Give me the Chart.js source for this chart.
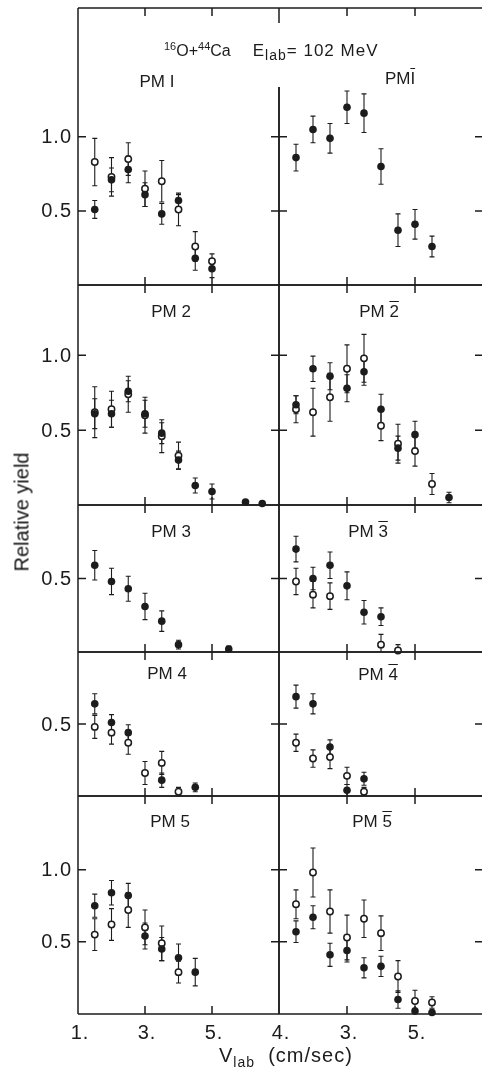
<!DOCTYPE html>
<html>
<head>
<meta charset="utf-8">
<script src="https://cdn.jsdelivr.net/npm/chart.js@4.4.1/dist/chart.umd.min.js"></script>
<style>
  html, body { margin: 0; padding: 0; background: #fff; }
  #page { position: relative; width: 482px; height: 1074px; overflow: hidden;
          font-family: "Liberation Sans", Arial, sans-serif; color: #1c1c1c; }
  #page canvas { position: absolute; }
  .txt { position: absolute; white-space: nowrap; }
  .pm { position: absolute; white-space: nowrap; transform: translate(-50%, -50%); font-size: 17px; }
  .ob { text-decoration: overline; }
</style>
</head>
<body>
<div id="page"></div>
<script>
// lab velocity bins shared by every panel
const vel = [1.5, 2.0, 2.5, 3.0, 3.5, 4.0, 4.5, 5.0, 5.5, 6.0, 6.5];

const xTickVals = [1, 3, 5];
const leftXLabels = ["1.", "3.", "5."];
const rightXLabels = ["4.", "3.", "5."];

// relative yields, filled = solid circles, open = hollow circles
const pm1Filled    = [0.51, 0.71, 0.78, 0.61, 0.48, 0.57, 0.18, 0.11];
const pm1FilledErr = [0.06, 0.08, 0.09, 0.08, 0.07, 0.04, 0.08, 0.06];
const pm1Open      = [0.83, 0.73, 0.85, 0.65, 0.70, 0.51, 0.26, 0.16];
const pm1OpenErr   = [0.16, 0.13, 0.11, 0.12, 0.14, 0.11, 0.10, 0.05];

const pm1bFilled    = [0.86, 1.05, 0.99, 1.20, 1.16, 0.80, 0.37, 0.41, 0.26];
const pm1bFilledErr = [0.09, 0.09, 0.10, 0.11, 0.13, 0.12, 0.11, 0.10, 0.07];
const pm1bOpen      = [];
const pm1bOpenErr   = [];

const pm2Filled    = [0.61, 0.61, 0.76, 0.61, 0.48, 0.30, 0.13, 0.09, null, 0.02, 0.01];
const pm2FilledErr = [0.10, 0.09, 0.07, 0.09, 0.07, 0.06, 0.05, 0.05, null, 0.015, 0.01];
const pm2Open      = [0.62, 0.64, 0.74, 0.60, 0.46, 0.33];
const pm2OpenErr   = [0.17, 0.12, 0.12, 0.12, 0.11, 0.09];

const pm2bFilled    = [0.67, 0.91, 0.86, 0.78, 0.89, 0.64, 0.38, 0.47, null, 0.05];
const pm2bFilledErr = [0.06, 0.085, 0.09, 0.09, 0.09, 0.10, 0.08, 0.09, null, 0.035];
const pm2bOpen      = [0.64, 0.62, 0.72, 0.91, 0.98, 0.53, 0.41, 0.36, 0.14];
const pm2bOpenErr   = [0.09, 0.16, 0.16, 0.16, 0.16, 0.10, 0.13, 0.10, 0.07];

const pm3Filled    = [0.59, 0.48, 0.43, 0.31, 0.21, 0.05, null, null, 0.02];
const pm3FilledErr = [0.10, 0.09, 0.085, 0.09, 0.07, 0.03, null, null, 0.02];
const pm3Open      = [];
const pm3OpenErr   = [];

const pm3bFilled    = [0.70, 0.50, 0.59, 0.45, 0.27, 0.24];
const pm3bFilledErr = [0.087, 0.077, 0.09, 0.095, 0.08, 0.06];
const pm3bOpen      = [0.48, 0.39, 0.38, null, null, 0.05, 0.01];
const pm3bOpenErr   = [0.09, 0.09, 0.09, null, null, 0.07, 0.04];

const pm4Filled    = [0.64, 0.51, 0.44, null, 0.11, null, 0.06];
const pm4FilledErr = [0.07, 0.055, 0.055, null, 0.05, null, 0.03];
const pm4Open      = [0.48, 0.44, 0.37, 0.16, 0.23, 0.03];
const pm4OpenErr   = [0.08, 0.08, 0.08, 0.08, 0.08, 0.03];

const pm4bFilled    = [0.69, 0.64, 0.34, 0.04, 0.12];
const pm4bFilledErr = [0.08, 0.07, 0.05, 0.04, 0.045];
const pm4bOpen      = [0.37, 0.26, 0.27, 0.14, 0.03];
const pm4bOpenErr   = [0.06, 0.06, 0.08, 0.06, 0.03];

const pm5Filled    = [0.75, 0.84, 0.82, 0.54, 0.45, 0.39, 0.29];
const pm5FilledErr = [0.08, 0.085, 0.085, 0.09, 0.08, 0.095, 0.095];
const pm5Open      = [0.55, 0.62, 0.72, 0.60, 0.49, 0.29];
const pm5OpenErr   = [0.11, 0.11, 0.12, 0.12, 0.12, 0.075];

const pm5bFilled    = [0.57, 0.67, 0.41, 0.44, 0.32, 0.33, 0.10, 0.02, 0.01];
const pm5bFilledErr = [0.075, 0.08, 0.08, 0.08, 0.07, 0.07, 0.06, 0.02, 0.015];
const pm5bOpen      = [0.76, 0.98, 0.71, 0.53, 0.66, 0.56, 0.26, 0.09, 0.08];
const pm5bOpenErr   = [0.10, 0.17, 0.15, 0.155, 0.13, 0.12, 0.11, 0.075, 0.04];

// page geometry (pixels)
const ink = "#1c1c1c";
const cols = [{ l: 78, r: 279 }, { l: 279, r: 483 }];
const rows = [
  { t: 8,   b: 285,  ymax: 1.87, yTicks: [0.5, 1.0] },
  { t: 285, b: 505,  ymax: 1.47, yTicks: [0.5, 1.0] },
  { t: 505, b: 652,  ymax: 1.0,  yTicks: [0.5] },
  { t: 652, b: 796,  ymax: 1.0,  yTicks: [0.5] },
  { t: 796, b: 1014, ymax: 1.51, yTicks: [0.5, 1.0] },
];

const panels = [
  { row: 0, col: 0, label: "PM I",  bar: false, lx: 157, ly: 82,  f: pm1Filled,  fe: pm1FilledErr,  o: pm1Open,  oe: pm1OpenErr },
  { row: 0, col: 1, label: "PMI",   bar: true,  lx: 400, ly: 79,  f: pm1bFilled, fe: pm1bFilledErr, o: pm1bOpen, oe: pm1bOpenErr },
  { row: 1, col: 0, label: "PM 2",  bar: false, lx: 171, ly: 312, f: pm2Filled,  fe: pm2FilledErr,  o: pm2Open,  oe: pm2OpenErr },
  { row: 1, col: 1, label: "PM 2",  bar: true,  lx: 379, ly: 312, f: pm2bFilled, fe: pm2bFilledErr, o: pm2bOpen, oe: pm2bOpenErr },
  { row: 2, col: 0, label: "PM 3",  bar: false, lx: 171, ly: 532, f: pm3Filled,  fe: pm3FilledErr,  o: pm3Open,  oe: pm3OpenErr },
  { row: 2, col: 1, label: "PM 3",  bar: true,  lx: 368, ly: 532, f: pm3bFilled, fe: pm3bFilledErr, o: pm3bOpen, oe: pm3bOpenErr },
  { row: 3, col: 0, label: "PM 4",  bar: false, lx: 167, ly: 674, f: pm4Filled,  fe: pm4FilledErr,  o: pm4Open,  oe: pm4OpenErr },
  { row: 3, col: 1, label: "PM 4",  bar: true,  lx: 378, ly: 675, f: pm4bFilled, fe: pm4bFilledErr, o: pm4bOpen, oe: pm4bOpenErr },
  { row: 4, col: 0, label: "PM 5",  bar: false, lx: 170, ly: 822, f: pm5Filled,  fe: pm5FilledErr,  o: pm5Open,  oe: pm5OpenErr },
  { row: 4, col: 1, label: "PM 5",  bar: true,  lx: 372, ly: 822, f: pm5bFilled, fe: pm5bFilledErr, o: pm5bOpen, oe: pm5bOpenErr },
];

function points(vals, errs) {
  const out = [];
  vals.forEach((v, i) => {
    if (v !== null && v !== undefined) out.push({ x: vel[i], y: v, e: errs[i] || 0 });
  });
  return out;
}

// error bars under the markers, then the frame with inward ticks and labels
const panelFrame = {
  id: "panelFrame",
  beforeDatasetsDraw(chart) {
    const { ctx, scales: { x, y } } = chart;
    ctx.save();
    ctx.strokeStyle = ink;
    ctx.lineWidth = 1.1;
    chart.data.datasets.forEach((ds) => {
      ds.data.forEach((p) => {
        if (!p.e) return;
        const px = x.getPixelForValue(p.x);
        const yt = y.getPixelForValue(p.y + p.e);
        const low = Math.max(0, p.y - p.e);
        const yb = y.getPixelForValue(low);
        ctx.beginPath();
        ctx.moveTo(px, yt); ctx.lineTo(px, yb);
        ctx.moveTo(px - 2.5, yt); ctx.lineTo(px + 2.5, yt);
        if (low > 0) { ctx.moveTo(px - 2.5, yb); ctx.lineTo(px + 2.5, yb); }
        ctx.stroke();
      });
    });
    ctx.restore();
  },
  afterDraw(chart, args, o) {
    const { ctx, chartArea: a, scales: { x, y } } = chart;
    const tl = 8;
    ctx.save();
    ctx.strokeStyle = ink;
    ctx.lineWidth = 1.5;
    ctx.beginPath();
    ctx.moveTo(a.left, a.top); ctx.lineTo(a.right, a.top);
    ctx.moveTo(a.left, a.bottom); ctx.lineTo(a.right, a.bottom);
    ctx.moveTo(a.left, o.col === 1 ? a.top + o.gap : a.top); ctx.lineTo(a.left, a.bottom);
    ctx.moveTo(a.right, o.col === 0 ? a.top + o.gap : a.top); ctx.lineTo(a.right, a.bottom);
    o.yTicks.forEach((v) => {
      const py = y.getPixelForValue(v);
      ctx.moveTo(a.left, py); ctx.lineTo(a.left + tl, py);
      ctx.moveTo(a.right - tl, py); ctx.lineTo(a.right, py);
    });
    xTickVals.slice(1).forEach((v) => {
      const px = x.getPixelForValue(v);
      ctx.moveTo(px, a.top); ctx.lineTo(px, a.top + tl);
      ctx.moveTo(px, a.bottom - tl); ctx.lineTo(px, a.bottom);
    });
    if (o.gap && o.col === 1) { ctx.moveTo(a.left, a.top); ctx.lineTo(a.left, a.top + 15); }
    ctx.stroke();

    ctx.fillStyle = ink;
    ctx.font = '20px "Liberation Sans", Arial, sans-serif';
    ctx.letterSpacing = "1px";
    if (o.col === 0) {
      ctx.textAlign = "right";
      ctx.textBaseline = "middle";
      o.yTicks.forEach((v) => ctx.fillText(v.toFixed(1), a.left - 6, y.getPixelForValue(v) + 1));
    }
    if (o.xLabels) {
      ctx.textAlign = "center";
      ctx.textBaseline = "top";
      xTickVals.forEach((v, i) => ctx.fillText(o.xLabels[i], x.getPixelForValue(v) + 2, a.bottom + 9));
    }
    ctx.restore();
  },
};

const page = document.getElementById("page");
const pad = 14;

panels.forEach((p) => {
  const c = cols[p.col];
  const r = rows[p.row];
  const padL = p.col === 0 ? c.l : pad;
  const padB = p.row === 4 ? 40 : pad;
  const w = c.r - c.l + padL + pad;
  const h = r.b - r.t + pad + padB;
  const cv = document.createElement("canvas");
  cv.width = w; cv.height = h;
  cv.style.width = w + "px"; cv.style.height = h + "px";
  cv.style.left = (c.l - padL) + "px";
  cv.style.top = (r.t - pad) + "px";
  page.appendChild(cv);

  new Chart(cv, {
    type: "scatter",
    data: {
      datasets: [
        { data: points(p.f, p.fe), pointRadius: 3.8, pointBackgroundColor: ink, pointBorderColor: ink, pointBorderWidth: 0, clip: false },
        { data: points(p.o, p.oe), pointRadius: 3.2, pointBackgroundColor: "#fff", pointBorderColor: ink, pointBorderWidth: 1.5, clip: false },
      ],
    },
    options: {
      responsive: false,
      animation: false,
      events: [],
      layout: { padding: { left: padL, right: pad, top: pad, bottom: padB } },
      plugins: {
        legend: { display: false },
        tooltip: { enabled: false },
        panelFrame: {
          col: p.col,
          gap: p.row === 0 ? 79 : 0,
          yTicks: r.yTicks,
          xLabels: p.row === 4 ? (p.col === 0 ? leftXLabels : rightXLabels) : null,
        },
      },
      scales: {
        x: { type: "linear", min: 1, max: 7, display: false },
        y: { type: "linear", min: 0, max: r.ymax, display: false },
      },
    },
    plugins: [panelFrame],
  });

  const lab = document.createElement("div");
  lab.className = "pm";
  lab.style.left = p.lx + "px";
  lab.style.top = p.ly + "px";
  if (p.bar) {
    const parts = p.label.split(" ");
    const head = parts.length > 1 ? parts[0] + " " : p.label.slice(0, 2);
    const digit = parts.length > 1 ? parts[1] : p.label.slice(2);
    lab.innerHTML = head + '<span class="ob">' + digit + "</span>";
  } else {
    lab.textContent = p.label;
  }
  page.appendChild(lab);
});

// titles
const title = document.createElement("div");
title.className = "txt";
title.style.left = "164px";
title.style.top = "40px";
title.style.fontSize = "16px";
title.innerHTML = '<sup style="font-size:11px">16</sup>O+<sup style="font-size:11px">44</sup>Ca' +
  '<span style="margin-left:22px;font-size:17px;letter-spacing:1px">E<sub style="font-size:14px">lab</sub>= 102 MeV</span>';
page.appendChild(title);

const yTitle = document.createElement("div");
yTitle.className = "txt";
yTitle.style.left = "22px";
yTitle.style.top = "512px";
yTitle.style.fontSize = "20px";
yTitle.style.color = "#111";
yTitle.style.transform = "translate(-50%, -50%) rotate(-90deg)";
yTitle.textContent = "Relative yield";
page.appendChild(yTitle);

const xTitle = document.createElement("div");
xTitle.className = "txt";
xTitle.style.left = "219px";
xTitle.style.top = "1044px";
xTitle.style.fontSize = "20px";
xTitle.style.letterSpacing = "1px";
xTitle.innerHTML = 'V<sub style="font-size:14px">lab</sub>&nbsp;&nbsp;(cm/sec)';
page.appendChild(xTitle);
</script>
</body>
</html>
